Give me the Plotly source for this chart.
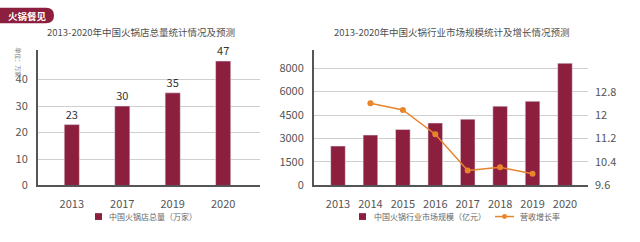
import plotly.graph_objects as go

# ---- data ----
left_years = ["2013", "2017", "2019", "2020"]
left_counts = [23, 30, 35, 47]

right_years = ["2013", "2014", "2015", "2016", "2017", "2018", "2019", "2020"]
market_size = [2515, 3218, 3573, 3985, 4233, 5066, 5377, 7805]
growth_years = ["2014", "2015", "2016", "2017", "2018", "2019"]
growth_rate = [12.41, 12.18, 11.35, 10.11, 10.22, 10.0]

left_ticks = [0, 10, 20, 30, 40]
right_ticks = [0, 1500, 3000, 4500, 6000, 7500]
right_ticktext = ["0", "1500", "3000", "4500", "6000", "8000"]
rate_ticks = [9.6, 10.4, 11.2, 12, 12.8]
rate_ticktext = ["9.6", "10.4", "11.2", "12", "12.8"]

left_legend = "中国火锅店总量（万家）"
right_legend_bar = "中国火锅行业市场规模（亿元）"
right_legend_line = "营收增长率"

BAR = "#8c1f3d"
LINE = "#e8842c"
FONT = "Noto Sans CJK SC"
W, H = 640, 242


def px(x):
    return x / W


def py(y):
    return 1 - y / H


fig = go.Figure()

fig.add_trace(go.Bar(
    x=left_years, y=left_counts, xaxis="x", yaxis="y",
    marker=dict(color=BAR), width=0.3,
    text=[str(v) for v in left_counts], textposition="outside",
    textfont=dict(size=11, color="#333333", family=FONT),
    cliponaxis=False, name=left_legend,
))

fig.add_trace(go.Bar(
    x=right_years, y=market_size, xaxis="x2", yaxis="y2",
    marker=dict(color=BAR), width=0.45, name=right_legend_bar,
))

fig.add_trace(go.Scatter(
    x=growth_years, y=growth_rate, xaxis="x2", yaxis="y3",
    mode="lines+markers",
    line=dict(color=LINE, width=1.5),
    marker=dict(color=LINE, size=6), name=right_legend_line,
))

ydom = [py(191), py(52)]
tickfont = dict(size=11, color="#555555", family=FONT)
xaxis_common = dict(showgrid=False, showline=True, linecolor="#555555", linewidth=2,
                    ticks="", tickfont=tickfont, ticklabelstandoff=7, fixedrange=True)
yaxis_common = dict(showline=True, linecolor="#555555", linewidth=2,
                    showgrid=True, gridcolor="#cfcfcf", gridwidth=1, zeroline=False,
                    ticks="", ticklabelstandoff=6, tickfont=tickfont, fixedrange=True)

fig.update_layout(
    width=W, height=H,
    margin=dict(l=0, r=0, t=0, b=0),
    paper_bgcolor="white", plot_bgcolor="white",
    font=dict(family=FONT, color="#555555"),
    showlegend=False,
    xaxis=dict(domain=[px(38), px(260)], anchor="y", type="category",
               range=[-0.67, 3.73], **xaxis_common),
    yaxis=dict(domain=ydom, anchor="x", range=[0, 51], tickvals=left_ticks,
               **yaxis_common),
    xaxis2=dict(domain=[px(314), px(588)], anchor="y2", type="category",
                range=[-0.74, 7.71], **xaxis_common),
    yaxis2=dict(domain=ydom, anchor="x2", range=[0, 8620], tickvals=right_ticks,
                ticktext=right_ticktext, **yaxis_common),
    yaxis3=dict(overlaying="y2", anchor="x2", side="right", range=[9.6, 14.21],
                tickvals=rate_ticks, ticktext=rate_ticktext,
                showgrid=False, showline=False, zeroline=False,
                ticks="", ticklabelstandoff=6, tickfont=tickfont, fixedrange=True),
)


def note(x, y, text, size, color, **kw):
    fig.add_annotation(x=px(x), y=py(y), xref="paper", yref="paper", text=text,
                       showarrow=False, xanchor=kw.pop("xanchor", "center"),
                       yanchor="middle",
                       font=dict(size=size, color=color, family=FONT), **kw)


# titles
note(141, 33, "2013-2020年中国火锅店总量统计情况及预测", 9.5, "#505050")
note(451, 33, "2013-2020年中国火锅行业市场规模统计及增长情况预测", 9.5, "#505050")

# unit label (rotated)
note(19, 64, "单位：万家", 6, "#777777", textangle=90)

# badge
fig.add_shape(type="path", xref="paper", yref="paper",
              path=(f"M 0 {py(8)} L {px(46)} {py(8)} "
                    f"Q {px(54)} {py(8)} {px(54)} {py(16)} "
                    f"Q {px(54)} {py(24)} {px(46)} {py(24)} "
                    f"L 0 {py(24)} Z"),
              fillcolor=BAR, line=dict(width=0))
note(27, 16, "<b>火锅餐见</b>", 9.5, "white")

# custom legends
LY = 223
fig.add_shape(type="rect", xref="paper", yref="paper",
              x0=px(95), x1=px(102), y0=py(LY - 3.5), y1=py(LY + 3.5),
              fillcolor=BAR, line=dict(width=0))
note(107, LY, left_legend, 8, "#666666", xanchor="left")

fig.add_shape(type="rect", xref="paper", yref="paper",
              x0=px(359), x1=px(366), y0=py(LY - 3.5), y1=py(LY + 3.5),
              fillcolor=BAR, line=dict(width=0))
note(372, LY, right_legend_bar, 8, "#666666", xanchor="left")

fig.add_shape(type="line", xref="paper", yref="paper",
              x0=px(495), x1=px(514), y0=py(LY), y1=py(LY),
              line=dict(color=LINE, width=1.5))
fig.add_shape(type="circle", xref="paper", yref="paper",
              x0=px(502), x1=px(507), y0=py(LY - 2.5), y1=py(LY + 2.5),
              fillcolor=LINE, line=dict(width=0))
note(518, LY, right_legend_line, 8, "#666666", xanchor="left")

fig.write_html("out.html")
